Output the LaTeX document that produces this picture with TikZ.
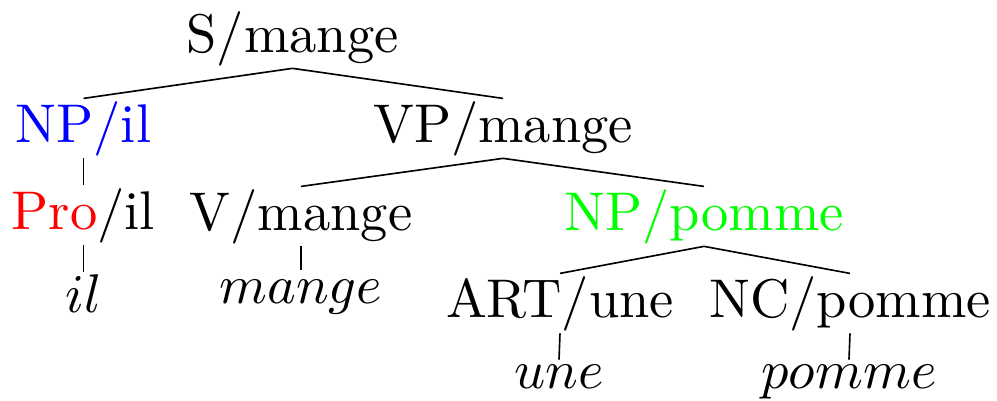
\documentclass[tikz,border=0pt]{standalone}
\begin{document}
\begin{tikzpicture}[x=0.1835pt,y=-0.1835pt,
  lab/.style={anchor=base,inner xsep=0pt,inner ysep=0.3pt,font=\fontsize{10}{12}\selectfont},
  term/.style={lab,inner ysep=0.2pt},
  edge/.style={line width=0.3pt}]
\useasboundingbox (0,0) rectangle (997,401);
\node[lab] (S) at (292.5,52) {S/mange};
\node[lab] (NPil) at (83.5,142) {\textcolor{blue}{NP/il}};
\node[lab] (VP) at (503,142) {VP/mange};
\node[lab] (Pro) at (83.5,229) {\textcolor{red}{Pro}/il};
\node[lab] (V) at (301,230) {V/mange};
\node[lab] (NPp) at (704,230) {\textcolor{green}{NP/pomme}};
\node[lab] (ART) at (560,317) {ART/une};
\node[lab] (NC) at (850,317) {NC/pomme};
\node[term] (il) at (83.5,312) {$il$};
\node[term] (mg) at (301,303) {$mange$};
\node[term] (une) at (559,388) {$une$};
\node[term] (pom) at (849,388) {$pomme$};
\draw[edge] (S.south) -- (NPil.north);
\draw[edge] (S.south) -- (VP.north);
\draw[edge] (NPil.south) -- (Pro.north);
\draw[edge] (Pro.south) -- (il.north);
\draw[edge] (VP.south) -- (V.north);
\draw[edge] (VP.south) -- (NPp.north);
\draw[edge] (V.south) -- ([yshift=1.3pt]mg.north);
\draw[edge] (NPp.south) -- (ART.north);
\draw[edge] (NPp.south) -- (NC.north);
\draw[edge] (ART.south) -- ([yshift=0.5pt]une.north);
\draw[edge] (NC.south) -- ([yshift=0.5pt]pom.north);
\end{tikzpicture}
\end{document}
